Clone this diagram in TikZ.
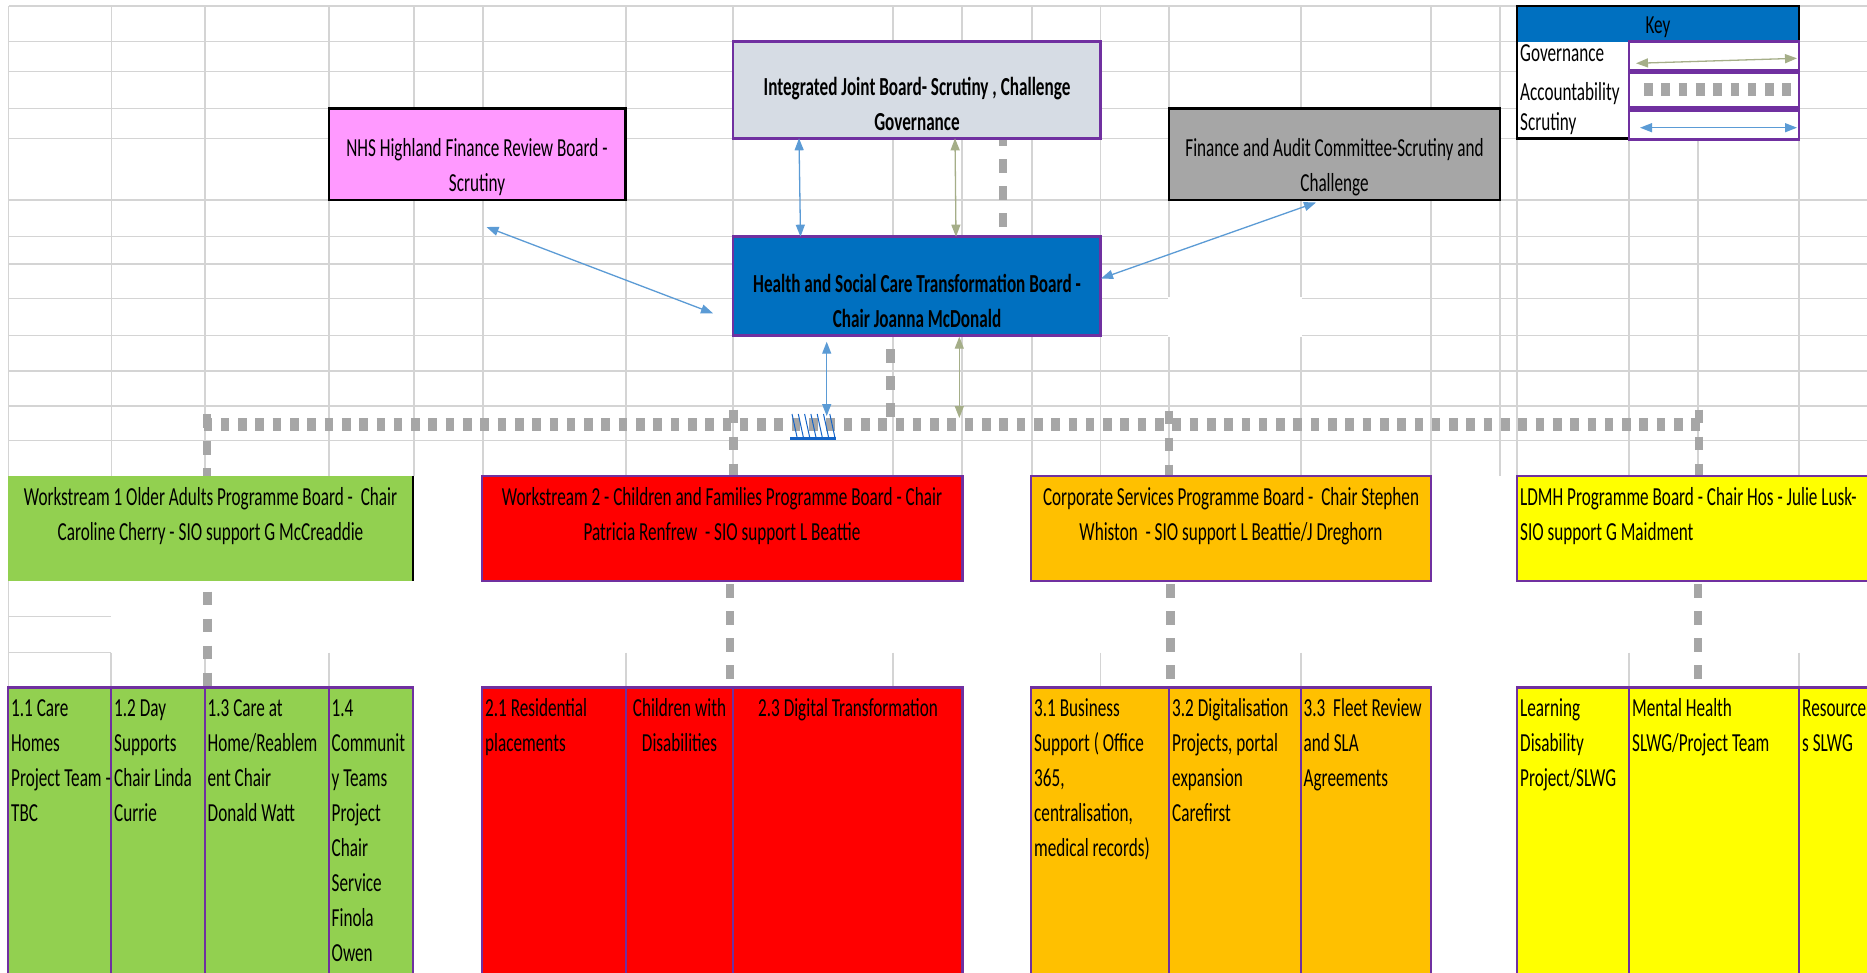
\documentclass[tikz,border=0pt]{standalone}
\usepackage{fontspec}
\setmainfont{Carlito}[FakeStretch=0.66]
\usetikzlibrary{arrows.meta,calc}
\definecolor{purp}{RGB}{112,48,160}
\definecolor{gridc}{RGB}{212,212,212}
\definecolor{hsblue}{RGB}{0,112,192}
\definecolor{ijbfill}{RGB}{214,220,228}
\definecolor{pinkf}{RGB}{255,153,255}
\definecolor{grayf}{RGB}{166,166,166}
\definecolor{greenf}{RGB}{146,208,80}
\definecolor{redf}{RGB}{255,0,0}
\definecolor{orangef}{RGB}{255,192,0}
\definecolor{yellowf}{RGB}{255,255,0}
\definecolor{scrblue}{RGB}{91,155,213}
\definecolor{govgreen}{RGB}{165,174,136}
\definecolor{accgray}{RGB}{166,166,166}
\definecolor{hatchc}{RGB}{20,100,200}
\newcommand\mkbox[6]{\node[bx,minimum width={#4pt-#2pt},minimum height={#5pt-#3pt},#6] (#1) at (#2,#3) {};}
\tikzset{
  gridl/.style={draw=gridc, line width=1.4pt},
  bx/.style={rectangle, inner sep=0pt, outer sep=0pt, anchor=north west},
  pbox/.style={draw=purp, line width=2.8pt},
  kbox/.style={draw=black, line width=2.8pt},
  t/.style={inner sep=0pt, font=\fontsize{26}{35}\selectfont, align=center, anchor=base},
  tb/.style={t, font=\fontsize{26}{35}\selectfont\bfseries},
  tl/.style={t, align=left, anchor=base west},
  scrut/.style={draw=scrblue, line width=1.3pt, {Triangle[length=12pt,width=9pt]}-{Triangle[length=12pt,width=9pt]}},
  gov/.style={draw=govgreen, line width=1.3pt, {Triangle[length=12pt,width=9pt]}-{Triangle[length=12pt,width=9pt]}},
  accv/.style={draw=accgray, line width=8.5pt, dash pattern=on 13.5pt off 13.5pt},
  acch/.style={draw=accgray, line width=13pt, dash pattern=on 8.6pt off 8.7pt},
}
\begin{document}
\begin{tikzpicture}[x=1pt,y=-1pt]
\useasboundingbox (0,0) rectangle (1867,972);
\fill[white] (0,0) rectangle (1867,972);
% ---- spreadsheet grid
\foreach \x in {8.7,111.5,205,329,414,483,626,733,893,962,1032,1100.7,1169,1301,1431,1500,1517,1629,1698,1799}
  \draw[gridl] (\x,6) -- (\x,476);
\foreach \y in {6,41.7,71.7,108.3,138.3,200,236.7,264,298.3,335.7,371,406,440.7}
  \draw[gridl] (8.7,\y) -- (1867,\y);
\fill[white] (1168,297.3) rectangle (1302,336.7);
\draw[gridl] (8.7,581) -- (8.7,687);
\draw[gridl] (8.7,616.7) -- (111,616.7);
\draw[gridl] (8.7,652.7) -- (111,652.7);
\foreach \x in {111,205,329,626,893,1100.7,1301,1629,1799}
  \draw[gridl] (\x,652.7) -- (\x,687);

% ---- accountability connectors (drawn under the boxes)
\coordinate (ijbd) at (1003,132);
\coordinate (ijbe) at (1003,227.5);
\coordinate (hsd) at (890.7,349);
\coordinate (hse) at (890.7,417.5);
\coordinate (h1) at (203.5,424.5);
\coordinate (h4) at (1701,424.5);
\coordinate (v1a) at (207,414);
\coordinate (v2a) at (733.5,409.5);
\coordinate (v3a) at (1169,410.5);
\coordinate (v4a) at (1699,409.5);
\coordinate (v1b) at (207.5,591.7);
\coordinate (v2b) at (730,584);
\coordinate (v3b) at (1170.5,584);
\coordinate (v4b) at (1698,584);

% ---- boxes
\mkbox{nhs}{329}{108.3}{625.3}{200}{kbox, fill=pinkf}
\mkbox{fa}{1169}{108.3}{1500}{200}{kbox, fill=grayf}
\mkbox{hs}{733}{236.7}{1100.7}{335.7}{pbox, fill=hsblue}
\draw[accv] (ijbd) -- (ijbe);
\draw[accv] (hsd) -- (hse);
\draw[accv] (v1a) -- (v1a |- 0,476);
\draw[accv] (v2a) -- (v2a |- 0,476);
\draw[accv] (v3a) -- (v3a |- 0,476);
\draw[accv] (v4a) -- (v4a |- 0,476);
\draw[accv] (v1b) -- (v1b |- 0,687);
\draw[accv] (v2b) -- (v2b |- 0,687);
\draw[accv] (v3b) -- (v3b |- 0,687);
\draw[accv] (v4b) -- (v4b |- 0,687);
\draw[acch] (h1) -- (h4);
\mkbox{ijb}{733}{41.7}{1100.7}{138.3}{pbox, fill=ijbfill}

\mkbox{ws1}{8}{476}{413}{581}{fill=greenf}
\draw[black, line width=2pt] (ws1.north east) -- (ws1.south east);
\mkbox{ws2}{482}{476}{962.7}{581}{pbox, fill=redf}
\mkbox{ws3}{1031}{476}{1431}{581}{pbox, fill=orangef}
\mkbox{ws4}{1517}{476}{1885}{581}{pbox, fill=yellowf}

\mkbox{b11}{8}{687.3}{111}{985}{pbox, fill=greenf}
\mkbox{b12}{111}{687.3}{205}{985}{pbox, fill=greenf}
\mkbox{b13}{205}{687.3}{329}{985}{pbox, fill=greenf}
\mkbox{b14}{329}{687.3}{413}{985}{pbox, fill=greenf}
\mkbox{b21}{482}{687.3}{626}{985}{pbox, fill=redf}
\mkbox{b22}{626}{687.3}{733}{985}{pbox, fill=redf}
\mkbox{b23}{733}{687.3}{962.7}{985}{pbox, fill=redf}
\mkbox{b31}{1031}{687.3}{1169}{985}{pbox, fill=orangef}
\mkbox{b32}{1169}{687.3}{1301}{985}{pbox, fill=orangef}
\mkbox{b33}{1301}{687.3}{1431}{985}{pbox, fill=orangef}
\mkbox{b41}{1517}{687.3}{1629}{985}{pbox, fill=yellowf}
\mkbox{b42}{1629}{687.3}{1799}{985}{pbox, fill=yellowf}
\mkbox{b43}{1799}{687.3}{1885}{985}{pbox, fill=yellowf}

% ---- key
\mkbox{keyh}{1517}{6}{1799}{41.7}{fill=hsblue}
\fill[white] (1517,41.7) rectangle (1629,138.3);
\draw[black, line width=2.5pt] (1629,138.3) -- (1517,138.3) -- (1517,6) -- (1799,6) -- (1799,41.7);
\mkbox{kgov}{1629}{41.7}{1799}{70.7}{pbox, fill=white}
\mkbox{kacc}{1629}{72.7}{1799}{107.3}{pbox, fill=white}
\mkbox{kscr}{1629}{110.7}{1799}{139.3}{pbox, fill=white}
\coordinate (kg1) at (1636,63.3);
\coordinate (kg2) at (1797,58.3);
\coordinate (ka1) at (1644,89);
\coordinate (ka2) at (1791,89);
\coordinate (ks1) at (1640,127.7);
\coordinate (ks2) at (1797,127.7);
\draw[gov] (kg1) -- (kg2);
\draw[acch] (ka1) -- (ka2);
\draw[scrut] (ks1) -- (ks2);

% ---- scrutiny / governance arrows
\coordinate (s1a) at (486.5,227);
\coordinate (s1b) at (713,313.3);
\coordinate (s4a) at (1316,202.5);
\coordinate (s4b) at (1101,278.5);
\coordinate (s3a) at (826.7,341.7);
\coordinate (s3b) at (826.7,416);
\coordinate (g3a) at (959.3,336.7);
\coordinate (g3b) at (959.3,418);
\draw[scrut] (s1a) -- (s1b);
\draw[scrut] (s4a) -- (s4b);
\draw[scrut] (ijb.south -| 799,0) -- (hs.north -| 800.5,0);
\draw[gov] (ijb.south -| 955,0) -- (hs.north -| 956,0);
\draw[scrut] (s3a) -- (s3b);
\draw[gov] (g3a) -- (g3b);

% ---- hatch mark on the line
\foreach \i in {0,...,6}
  \draw[hatchc, line width=1pt] (792+\i*6.3,414) -- (797+\i*6.3,437);
\draw[hatchc, line width=3pt] (790,438.5) -- (836,438.5);

% ---- texts (anchor = baseline of the last line)
\node[tb] (ijbt) at (917,130) {Integrated Joint Board- Scrutiny , Challenge\\Governance};
\node[tb] (hst) at (917,327.5) {Health and Social Care Transformation Board -\\Chair Joanna McDonald};
\node[t] (nhst) at (477,191.7) {NHS Highland Finance Review Board -\\Scrutiny};
\node[t] (fat) at (1334.5,191.7) {Finance and Audit Committee-Scrutiny and\\Challenge};
\node[t] (ws1t) at (210.5,540) {Workstream 1 Older Adults Programme Board - \ Chair\\Caroline Cherry - SIO support G McCreaddie};
\node[t] (ws2t) at (722,540) {Workstream 2 - Children and Families Programme Board - Chair\\Patricia Renfrew \ - SIO support L Beattie};
\node[t] (ws3t) at (1231,540) {Corporate Services Programme Board - \ Chair Stephen\\Whiston \ - SIO support L Beattie/J Dreghorn};
\node[tl] (ws4t) at (1520,540) {LDMH Programme Board - Chair Hos - Julie Lusk-\\SIO support G Maidment};

\node[tl] (b11t) at (11,821.7) {1.1 Care\\Homes\\Project Team -\\TBC};
\node[tl] (b12t) at (114,821.7) {1.2 Day\\Supports\\Chair Linda\\Currie};
\node[tl] (b13t) at (207.5,821.7) {1.3 Care at\\Home/Reablem\\ent Chair\\Donald Watt};
\node[tl] (b14t) at (331.5,961.7) {1.4\\Communit\\y Teams\\Project\\Chair\\Service\\Finola\\Owen};
\node[tl] (b21t) at (485,751.7) {2.1 Residential\\placements};
\node[t] (b22t) at (679.5,751.7) {Children with\\Disabilities};
\node[t] (b23t) at (848,716.7) {2.3 Digital Transformation};
\node[tl] (b31t) at (1034,856.7) {3.1 Business\\Support ( Office\\365,\\centralisation,\\medical records)};
\node[tl] (b32t) at (1172,821.7) {3.2 Digitalisation\\Projects, portal\\expansion\\Carefirst};
\node[tl] (b33t) at (1303.5,786.7) {3.3 \ Fleet Review\\and SLA\\Agreements};
\node[tl] (b41t) at (1520,786.7) {Learning\\Disability\\Project/SLWG};
\node[tl] (b42t) at (1632,751.7) {Mental Health\\SLWG/Project Team};
\node[tl] (b43t) at (1802,751.7) {Resource\\s SLWG};

\node[t] (keyt) at (1658,33) {Key};
\node[tl] (kgt) at (1520,61.7) {Governance};
\node[tl] (kat) at (1520,100) {Accountability};
\node[tl] (kst) at (1520,130) {Scrutiny};
\end{tikzpicture}
\end{document}
